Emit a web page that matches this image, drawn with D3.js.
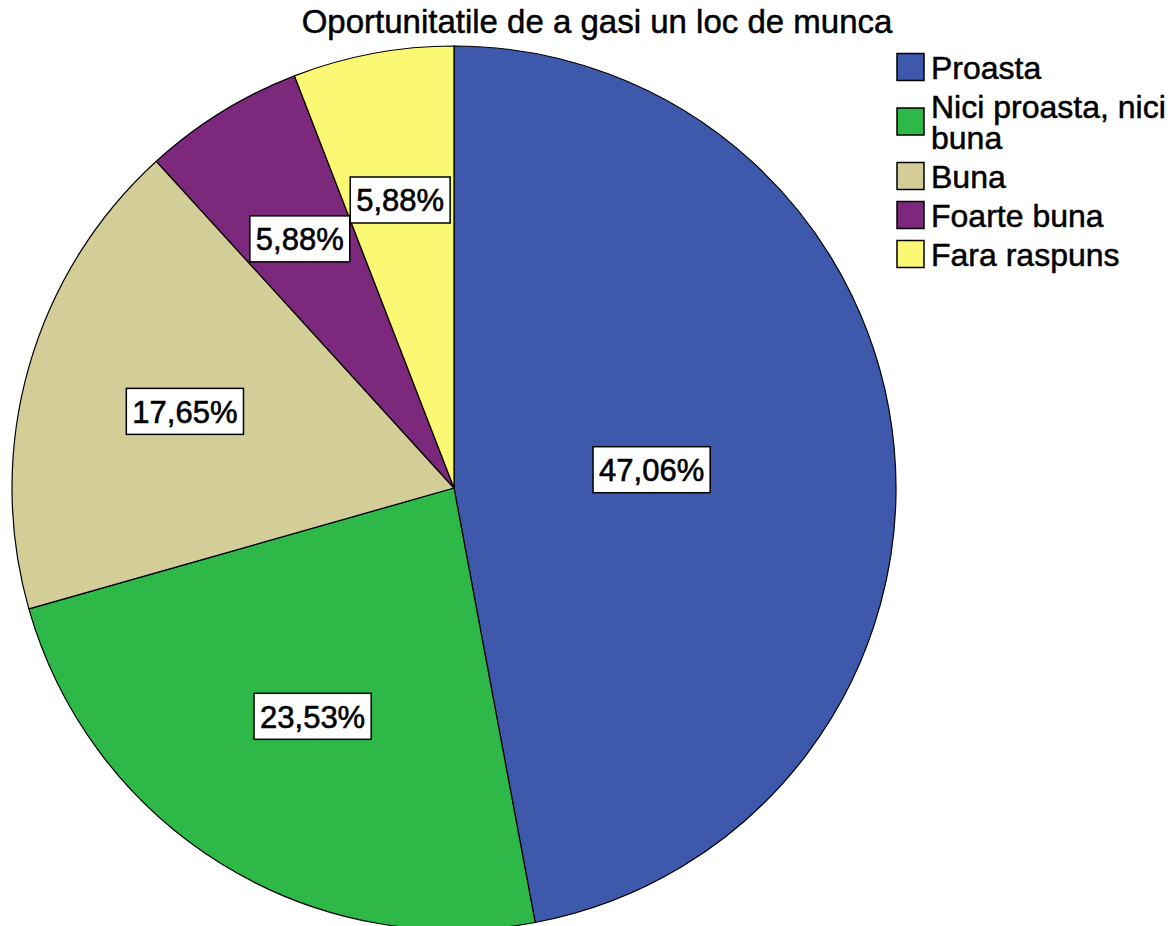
<!DOCTYPE html>
<html lang="ro">
<head>
  <meta charset="UTF-8">
  <title>Oportunitatile de a gasi un loc de munca</title>
  <script src="https://d3js.org/d3.v7.min.js"></script>
  <style>
    body {
      margin: 0;
      background: #fff;
      font-family: Arial, "Liberation Sans", sans-serif;
    }
    .slice {
      stroke: #000;
      stroke-width: 1.2;
    }
    .title {
      font-size: 33px;
      fill: #000;
      stroke: #000;
      stroke-width: 0.5;
      text-anchor: middle;
    }
    .legend-text {
      font-size: 32px;
      fill: #000;
      stroke: #000;
      stroke-width: 0.5;
    }
    .pct-box {
      fill: #fff;
      stroke: #000;
      stroke-width: 1.5;
    }
    .pct-label {
      font-size: 31px;
      fill: #000;
      stroke: #000;
      stroke-width: 0.6;
      text-anchor: middle;
      dominant-baseline: central;
    }
  </style>
</head>
<body>
  <div id="chart"></div>
  <script>
    // categories and percentages (n = 17)
    const categories = ["Proasta", "Nici proasta, nici buna", "Buna", "Foarte buna", "Fara raspuns"];
    const percents = [47.06, 23.53, 17.65, 5.88, 5.88];
    const colors = ["#3e58ac", "#2eb848", "#d3ce97", "#7c287d", "#fbf873"];
    const legendLines = [["Proasta"], ["Nici proasta, nici", "buna"], ["Buna"], ["Foarte buna"], ["Fara raspuns"]];
    const titleText = "Oportunitatile de a gasi un loc de munca";

    const svgWidth = 1175;
    const svgHeight = 926;
    const cx = 454, cy = 488, radius = 442;

    const data = categories.map((c, i) => ({ name: c, value: percents[i], color: colors[i], lines: legendLines[i] }));

    const svg = d3.select("#chart").append("svg")
      .attr("width", svgWidth)
      .attr("height", svgHeight);

    const pie = d3.pie().sort(null).value(d => d.value);
    const arc = d3.arc().innerRadius(0).outerRadius(radius);
    const arcs = pie(data);

    const g = svg.append("g").attr("transform", `translate(${cx},${cy})`);

    g.selectAll(".slice")
      .data(arcs)
      .enter()
      .append("path")
      .attr("class", "slice")
      .attr("fill", d => d.data.color)
      .attr("d", arc);

    // label at the area centroid of each sector
    const fmt = v => v.toFixed(2).replace(".", ",") + "%";
    const labels = g.selectAll(".pct")
      .data(arcs)
      .enter()
      .append("g")
      .attr("class", "pct")
      .attr("transform", d => {
        const half = (d.endAngle - d.startAngle) / 2;
        const mid = d.startAngle + half;
        const dist = 2 * radius * Math.sin(half) / (3 * half);
        return `translate(${dist * Math.sin(mid)},${-dist * Math.cos(mid)})`;
      });

    labels.append("text")
      .attr("class", "pct-label")
      .attr("y", 1)
      .text(d => fmt(d.data.value));

    labels.each(function() {
      const t = d3.select(this).select("text");
      const w = t.node().getComputedTextLength();
      d3.select(this).insert("rect", "text")
        .attr("class", "pct-box")
        .attr("x", -w / 2 - 6)
        .attr("y", -23)
        .attr("width", w + 12)
        .attr("height", 46);
    });

    // title
    svg.append("text")
      .attr("class", "title")
      .attr("x", 597)
      .attr("y", 33)
      .text(titleText);

    // legend
    const lineH = 31, gap = 8;
    let y0 = 48;
    const legend = svg.append("g").attr("transform", "translate(897,0)");
    data.forEach(d => {
      const h = d.lines.length * lineH + gap;
      const mid = y0 + h / 2;
      const item = legend.append("g");
      item.append("rect")
        .attr("x", 0)
        .attr("y", mid - 14)
        .attr("width", 27)
        .attr("height", 27)
        .attr("fill", d.color)
        .attr("stroke", "#000")
        .attr("stroke-width", 1.5);
      d.lines.forEach((l, i) => {
        item.append("text")
          .attr("class", "legend-text")
          .attr("x", 34)
          .attr("y", mid - (d.lines.length - 1) * lineH / 2 + i * lineH + 11)
          .text(l);
      });
      y0 += h;
    });
  </script>
</body>
</html>
